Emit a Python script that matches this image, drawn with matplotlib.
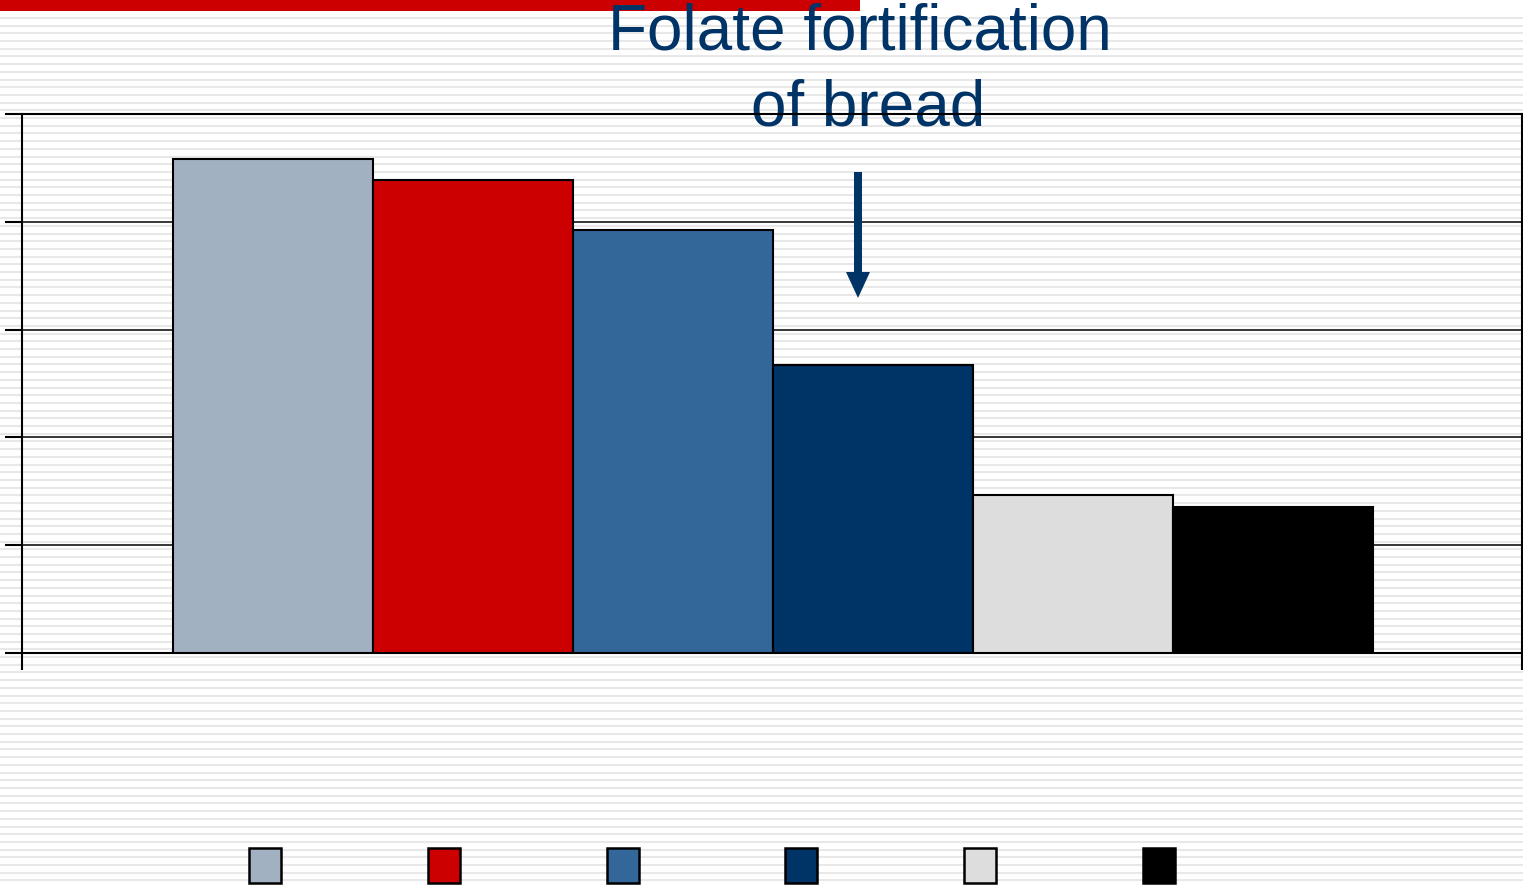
import matplotlib.pyplot as plt
import matplotlib.patches as mpatches
import numpy as np

# bar heights (in gridline units, axis 0-5)
values = [4.58, 4.39, 3.92, 2.67, 1.47, 1.35]
colors = ["#A2B1C1", "#CC0000", "#336699", "#003366", "#DDDDDD", "#000000"]
labels = ["", "", "", "", "", ""]
yticks = [0, 1, 2, 3, 4, 5]
title_lines = ["Folate fortification", "of bread"]

W, H = 1523, 888
fig = plt.figure(figsize=(W / 100, H / 100), dpi=100)
fig.patch.set_facecolor("white")

# striped background
bg = fig.add_axes([0, 0, 1, 1], zorder=-5)
bg.set_xlim(0, W)
bg.set_ylim(H, 0)
bg.axis("off")
for y in np.arange(18, H, 7.7):
    bg.axhline(y, color="#E8E8E8", lw=1.5, zorder=1)
# red strip at the top
bg.add_patch(mpatches.Rectangle((0, 0), 860, 11, color="#CC0000", lw=0, zorder=3))

# heading text, behind the plot frame
fig.text(860 / W, 1 - 32 / H, title_lines[0], ha="center", va="center",
         fontsize=46, family="Liberation Sans", color="#003366", zorder=-1)
fig.text(868 / W, 1 - 108 / H, title_lines[1], ha="center", va="center",
         fontsize=46, family="Liberation Sans", color="#003366", zorder=-1)

ax = fig.add_axes([22 / W, 1 - 653 / H, 1500 / W, (653 - 114) / H])
ax.patch.set_alpha(0)

n = len(values)
lefts = 0.755 + np.arange(n)
ax.bar(lefts, values, width=1.0, align="edge", color=colors,
       edgecolor="black", linewidth=1.5, zorder=3)

ax.set_xlim(0, 7.5)
ax.set_ylim(0, 5)
ax.set_yticks(yticks)
ax.set_yticklabels([])
ax.set_xticks([0, 7.5])
ax.set_xticklabels([])
ax.tick_params(axis="both", direction="out", length=12.5, width=1.5, color="black")
ax.yaxis.grid(True, color="black", lw=1.1)
ax.set_axisbelow(True)
for s in ax.spines.values():
    s.set_color("black")
    s.set_linewidth(1.5)

# down arrow marking fortification (pixel coordinates)
arrow = mpatches.FancyArrow(858, 172, 0, 126, width=8, head_width=24, head_length=26,
                            length_includes_head=True, color="#003366", lw=0,
                            transform=bg.transData, clip_on=False, zorder=4)
ax.add_artist(arrow)

handles = [mpatches.Patch(facecolor=c, edgecolor="black", linewidth=1.8) for c in colors]
fig.legend(handles, labels, ncol=n, loc="center", bbox_to_anchor=(712 / W, 1 - 866 / H),
           frameon=False, fontsize=23, handlelength=1.0, handleheight=1.3,
           handletextpad=0, columnspacing=4.6, borderpad=0)

fig.savefig("out.png", dpi=100)
